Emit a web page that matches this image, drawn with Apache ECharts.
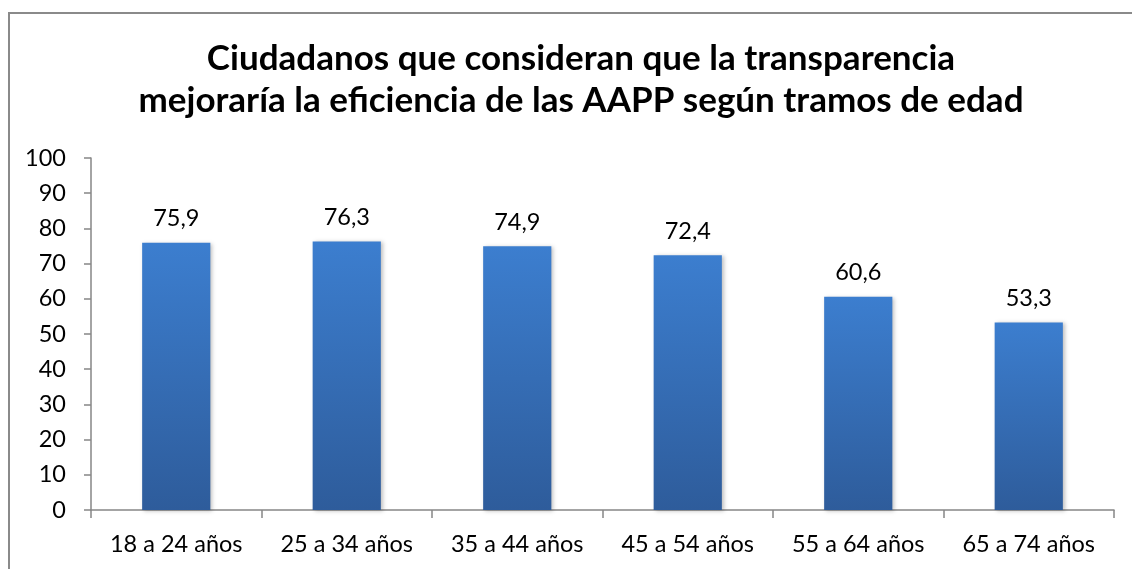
<!DOCTYPE html>
<html>
<head>
<meta charset="utf-8">
<script src="https://cdn.jsdelivr.net/npm/echarts@6/dist/echarts.min.js"></script>
<style>
  html, body { margin: 0; padding: 0; background: #fff; }
  #chart { width: 1132px; height: 569px; }
</style>
</head>
<body>
<div id="chart"></div>
<script>
// Age brackets and share of citizens (%) who think transparency would improve efficiency
const categories = ['18 a 24 años', '25 a 34 años', '35 a 44 años', '45 a 54 años', '55 a 64 años', '65 a 74 años'];
const values = [75.9, 76.3, 74.9, 72.4, 60.6, 53.3];
const yTicks = { min: 0, max: 100, interval: 10 };
const titleLines = [
  'Ciudadanos que consideran que la transparencia',
  'mejoraría la eficiencia de las AAPP según tramos de edad'
];

const FONT = 'Lato, "Liberation Sans", sans-serif';
const axisGray = '#868686';

const chart = echarts.init(document.getElementById('chart'));
chart.setOption({
  backgroundColor: '#fff',
  animation: false,
  graphic: [{
    type: 'rect',
    shape: { x: 9, y: 13, width: 1200, height: 700 },
    style: { fill: 'none', stroke: '#8a8a8a', lineWidth: 2 },
    silent: true
  }],
  title: {
    text: titleLines.join('\n'),
    left: 576,
    textAlign: 'center',
    top: 33,
    textStyle: {
      fontFamily: FONT,
      fontWeight: 'bold',
      fontSize: 35,
      lineHeight: 42,
      color: '#000'
    }
  },
  grid: { left: 91, right: 18, top: 158, bottom: 59, containLabel: false },
  xAxis: {
    type: 'category',
    data: categories,
    axisLine: { lineStyle: { color: axisGray, width: 1.5 } },
    axisTick: { show: true, interval: 0, length: 8, lineStyle: { color: axisGray, width: 1.5 } },
    axisLabel: { interval: 0, fontFamily: FONT, fontSize: 23.5, color: '#000', margin: 22 },
    splitLine: { show: false }
  },
  yAxis: {
    type: 'value',
    min: yTicks.min,
    max: yTicks.max,
    interval: yTicks.interval,
    axisLine: { show: true, lineStyle: { color: axisGray, width: 1.5 } },
    axisTick: { show: true, length: 7, lineStyle: { color: axisGray, width: 1.5 } },
    axisLabel: { fontFamily: FONT, fontSize: 23.5, color: '#000', margin: 25 },
    splitLine: { show: false }
  },
  series: [{
    type: 'bar',
    data: values,
    barWidth: '40%',
    itemStyle: {
      color: new echarts.graphic.LinearGradient(0, 0, 0, 1, [
        { offset: 0, color: '#3c7ecf' },
        { offset: 1, color: '#2e5c9b' }
      ]),
      shadowColor: 'rgba(0,0,0,0.25)',
      shadowBlur: 4,
      shadowOffsetX: 2,
      shadowOffsetY: 1
    },
    label: {
      show: true,
      position: 'top',
      distance: 12,
      fontFamily: FONT,
      fontSize: 23.5,
      color: '#000',
      formatter: p => String(p.value).replace('.', ',')
    }
  }]
});
</script>
</body>
</html>
